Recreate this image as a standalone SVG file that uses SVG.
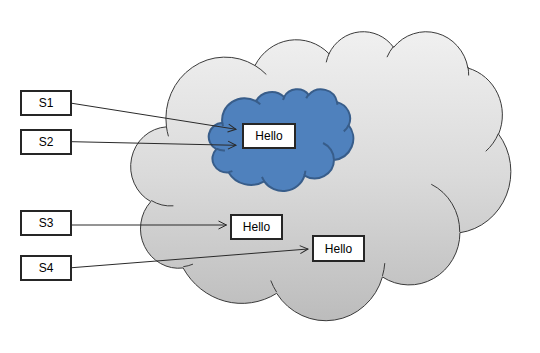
<svg xmlns="http://www.w3.org/2000/svg" xmlns:xlink="http://www.w3.org/1999/xlink" width="540" height="353" viewBox="0 0 540 353">
  <defs>
    <linearGradient id="grayGrad" x1="0" y1="0" x2="0" y2="1">
      <stop offset="0" stop-color="#f0f0f0"/>
      <stop offset="0.5" stop-color="#dadada"/>
      <stop offset="1" stop-color="#bcbcbc"/>
    </linearGradient>
    <path id="cloudShape" vector-effect="non-scaling-stroke" d="M3900 14370 A6753 9190 0 0 1 14005 5202 A5333 7267 0 0 1 22456 3433 A4365 5945 0 0 1 29834 2482 A4857 6595 0 0 1 38319 5577 A5333 7273 0 0 1 41819 15461 A6775 9220 0 0 1 37405 30204 A5785 7867 0 0 1 28556 36814 A6752 9215 0 0 1 16481 39266 A7720 10543 0 0 1 5805 35472 A4360 5918 0 0 1 2114 25549 A4345 5945 0 0 1 3900 14370 Z"/>
    <path id="cloudDetail" vector-effect="non-scaling-stroke" fill="none" d="M4693 26177 A4345 5945 0 0 1 2159 25379 M6928 34899 A4360 5918 0 0 1 5820 35280 M16478 39090 A6752 9215 0 0 1 15810 37349 M28827 34751 A6752 9215 0 0 1 28560 36660 M34129 22954 A5785 7867 0 0 1 37381 30090 M41798 15354 A5333 7273 0 0 1 40350 18030 M38324 5426 A4857 6595 0 0 1 38400 6690 M29078 3952 A4857 6595 0 0 1 29820 2339 M22141 4720 A4365 5945 0 0 1 22500 3330 M14000 5192 A6753 9190 0 0 1 15300 6540 M4127 15789 A6753 9190 0 0 1 3900 14371"/>
    <marker id="arrow" markerUnits="userSpaceOnUse" markerWidth="10" markerHeight="10" refX="8" refY="4" orient="auto" overflow="visible">
      <path d="M0,0 L8,4 L0,8" fill="none" stroke="#2a2a2a" stroke-width="1"/>
    </marker>
    <style>
      .outer { fill: url(#grayGrad); stroke: #3a3a3a; stroke-width: 1; }
      .outerDetail { stroke: #3a3a3a; stroke-width: 1; }
      .inner { fill: #4f81bd; stroke: #385d8a; stroke-width: 2; }
      .innerDetail { stroke: #385d8a; stroke-width: 2; }
      .conn { stroke: #2a2a2a; stroke-width: 1; fill: none; marker-end: url(#arrow); }
      .box { fill: #ffffff; stroke: #262626; stroke-width: 2; }
      .label { font-family: "Liberation Sans", Arial, sans-serif; font-size: 12px; fill: #000000; text-anchor: middle; }
    </style>
  </defs>

  <g id="cloud-outer" transform="translate(132.3,30.76) scale(0.008759,0.006687)">
    <use xlink:href="#cloudShape" href="#cloudShape" class="outer"/>
    <use xlink:href="#cloudDetail" href="#cloudDetail" class="outerDetail"/>
  </g>

  <g id="cloud-inner" transform="translate(209.3,88.97) scale(0.003333,0.002353)">
    <use xlink:href="#cloudShape" href="#cloudShape" class="inner"/>
    <use xlink:href="#cloudDetail" href="#cloudDetail" class="innerDetail"/>
  </g>

  <g id="connectors">
    <line class="conn" x1="72" y1="103.3" x2="236" y2="129.3"/>
    <line class="conn" x1="72" y1="141.7" x2="236" y2="145.3"/>
    <line class="conn" x1="72" y1="225" x2="226.5" y2="225"/>
    <line class="conn" x1="72" y1="267.7" x2="308" y2="249"/>
  </g>

  <g id="S1">
    <rect class="box" x="21" y="91" width="50" height="24"/>
    <text class="label" x="46" y="107.3">S1</text>
  </g>
  <g id="S2">
    <rect class="box" x="21" y="130" width="50" height="24"/>
    <text class="label" x="46" y="146.3">S2</text>
  </g>
  <g id="S3">
    <rect class="box" x="21" y="211" width="50" height="24"/>
    <text class="label" x="46" y="227.3">S3</text>
  </g>
  <g id="S4">
    <rect class="box" x="21" y="256" width="50" height="24"/>
    <text class="label" x="46" y="272.3">S4</text>
  </g>

  <g id="hello1">
    <rect class="box" x="243" y="124" width="52" height="24"/>
    <text class="label" x="269" y="140.3">Hello</text>
  </g>
  <g id="hello2">
    <rect class="box" x="231" y="215" width="51" height="24"/>
    <text class="label" x="256.5" y="231.3">Hello</text>
  </g>
  <g id="hello3">
    <rect class="box" x="313" y="236" width="51" height="25"/>
    <text class="label" x="338.5" y="252.8">Hello</text>
  </g>
</svg>
